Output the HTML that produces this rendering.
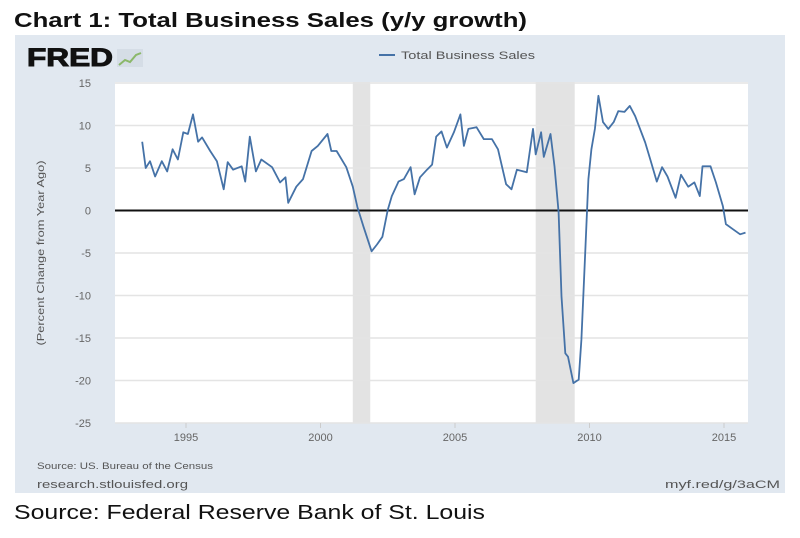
<!DOCTYPE html>
<html><head><meta charset="utf-8"><style>
body{margin:0;width:800px;height:533px;background:#fff;overflow:hidden;font-family:"Liberation Sans",sans-serif;}
</style></head><body>
<svg width="800" height="533" xmlns="http://www.w3.org/2000/svg">
<text x="14" y="27" font-size="20" font-weight="bold" fill="#111" textLength="513" lengthAdjust="spacingAndGlyphs">Chart 1: Total Business Sales (y/y growth)</text>
<rect x="15" y="35" width="770" height="458" fill="#e1e8f0"/>
<text x="27" y="66" font-size="25" font-weight="900" fill="#111" stroke="#111" stroke-width="1" textLength="86" lengthAdjust="spacingAndGlyphs">FRED</text>
<rect x="117" y="49" width="26" height="18" fill="#d5dde6"/>
<polyline points="119,65 125,60 130,62 136,55 141,53" fill="none" stroke="#8bb86a" stroke-width="2"/>
<line x1="379" y1="55" x2="395" y2="55" stroke="#4572a7" stroke-width="2"/>
<text x="401" y="59" font-size="11" fill="#555" textLength="134" lengthAdjust="spacingAndGlyphs">Total Business Sales</text>
<rect x="115" y="82" width="633" height="341" fill="#fff"/>
<g id="shade"></g><g id="grid"></g><g id="xt"></g><g id="yt"></g>
<line id="zero" stroke="#111" stroke-width="2"/>
<path id="series" fill="none" stroke="#4572a7" stroke-width="1.8" stroke-linejoin="round"/>
<text transform="translate(44,253) rotate(-90)" text-anchor="middle" font-size="10" fill="#555" textLength="185" lengthAdjust="spacingAndGlyphs">(Percent Change from Year Ago)</text>
<text x="37" y="469" font-size="9" fill="#555" textLength="176" lengthAdjust="spacingAndGlyphs">Source: US. Bureau of the Census</text>
<text x="37" y="488" font-size="11" fill="#555" textLength="151" lengthAdjust="spacingAndGlyphs">research.stlouisfed.org</text>
<text x="665" y="488" font-size="11" fill="#555" textLength="115" lengthAdjust="spacingAndGlyphs">myf.red/g/3aCM</text>
<text x="14" y="519" font-size="20" fill="#111" textLength="471" lengthAdjust="spacingAndGlyphs">Source: Federal Reserve Bank of St. Louis</text>
</svg>
<script>
const years=[1993.37,1993.5,1993.66,1993.85,1994.1,1994.3,1994.5,1994.7,1994.9,1995.07,1995.26,1995.45,1995.6,1995.9,1996.15,1996.4,1996.55,1996.75,1997.07,1997.2,1997.37,1997.6,1997.8,1998.2,1998.5,1998.7,1998.8,1999.1,1999.35,1999.67,1999.9,2000.26,2000.4,2000.6,2000.96,2001.2,2001.37,2001.6,2001.9,2002.1,2002.3,2002.5,2002.65,2002.9,2003.1,2003.35,2003.5,2003.7,2003.96,2004.15,2004.3,2004.5,2004.7,2004.96,2005.2,2005.33,2005.5,2005.8,2006.07,2006.37,2006.6,2006.9,2007.1,2007.3,2007.67,2007.9,2008.0,2008.2,2008.3,2008.55,2008.7,2008.85,2008.96,2009.1,2009.2,2009.4,2009.6,2009.7,2009.85,2009.96,2010.07,2010.2,2010.33,2010.5,2010.7,2010.9,2011.07,2011.3,2011.5,2011.7,2012.07,2012.26,2012.5,2012.7,2012.9,2013.2,2013.4,2013.67,2013.9,2014.1,2014.2,2014.5,2014.7,2014.96,2015.07,2015.33,2015.6,2015.8];
const values=[8.1,5.0,5.8,4.0,5.8,4.6,7.2,6.0,9.2,9.0,11.3,8.1,8.6,7.0,5.8,2.5,5.7,4.8,5.2,3.4,8.7,4.6,6.0,5.1,3.3,3.9,0.9,2.8,3.7,7.0,7.6,9.0,7.0,7.0,5.1,2.8,0.4,-1.9,-4.8,-4.0,-3.1,0.1,1.7,3.4,3.7,5.1,1.9,3.9,4.8,5.4,8.7,9.3,7.4,9.2,11.3,7.6,9.6,9.8,8.4,8.4,7.2,3.1,2.5,4.8,4.5,9.6,6.6,9.2,6.3,9.0,5.2,-0.2,-10.1,-16.8,-17.2,-20.3,-19.9,-15.2,-4.2,3.7,7.2,9.6,13.5,10.4,9.6,10.4,11.7,11.6,12.3,11.1,8.0,6.0,3.4,5.1,4.0,1.5,4.2,2.8,3.3,1.7,5.2,5.2,3.3,0.5,-1.6,-2.2,-2.8,-2.6];
const yTicks=[15,10,5,0,-5,-10,-15,-20,-25];
const xTicks=[1995,2000,2005,2010,2015];
const recessionStart=[2001.2,2008.0];
const recessionEnd=[2001.85,2009.45];
const NS="http://www.w3.org/2000/svg";
const X=y=>186+(y-1995)*26.9;
const Y=v=>210.5-v*8.5;
function mk(tag,attrs,parent){const e=document.createElementNS(NS,tag);for(const k in attrs)e.setAttribute(k,attrs[k]);document.getElementById(parent).appendChild(e);return e;}
recessionStart.forEach((s,i)=>{const r=mk('rect',{x:X(s),y:82,width:X(recessionEnd[i])-X(s),height:341,fill:'#e3e3e3'},'shade');

});
yTicks.forEach(v=>{const l=mk('line',{x1:115,x2:748,y1:Y(v),y2:Y(v),stroke:'#e4e4e4','stroke-width':1.5},'grid');


const t=mk('text',{x:91,y:Y(v)+4,'text-anchor':'end','font-size':11,fill:'#666'},'yt');t.textContent=v;

});
xTicks.forEach(y=>{const l=mk('line',{x1:X(y),x2:X(y),y1:423,y2:428,stroke:'#ccc'},'xt');


const t=mk('text',{x:X(y),y:441,'text-anchor':'middle','font-size':11,fill:'#666'},'xt');t.textContent=y;

});
const z=document.getElementById('zero');z.setAttribute('x1',115);z.setAttribute('x2',748);z.setAttribute('y1',Y(0));z.setAttribute('y2',Y(0));
document.getElementById('series').setAttribute('d',years.map((y,i)=>(i?'L':'M')+X(y).toFixed(1)+','+Y(values[i]).toFixed(1)).join(''));
</script>
</body></html>
